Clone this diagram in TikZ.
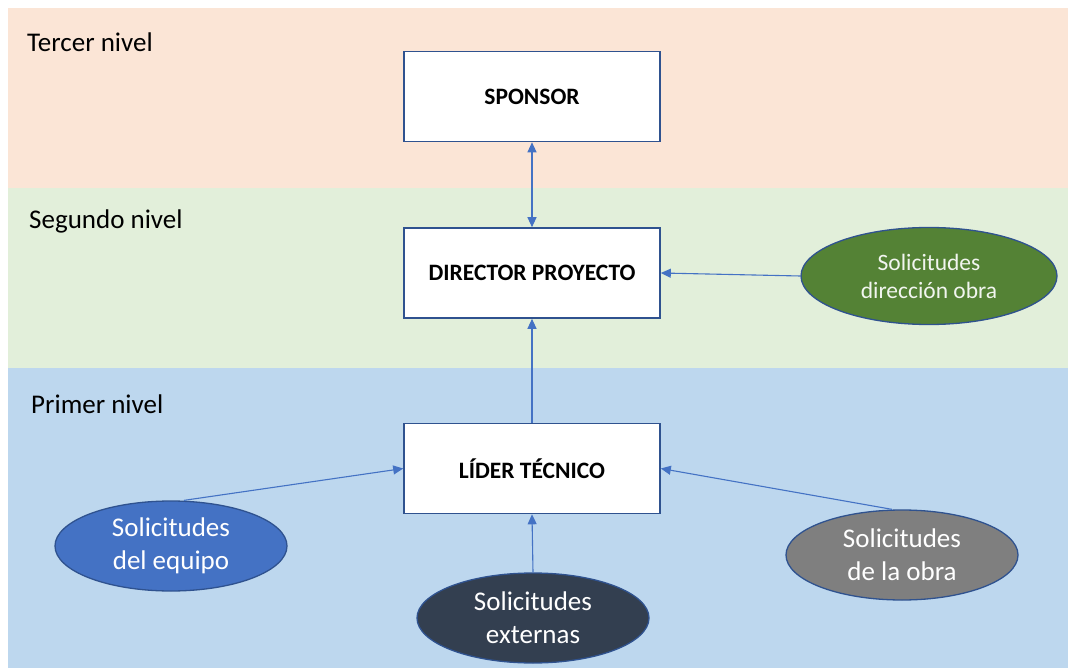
\documentclass[tikz,border=0pt]{standalone}
\usepackage{fontspec}
\setmainfont{Carlito}
\usetikzlibrary{shapes.geometric,arrows.meta}

\definecolor{bandpeach}{HTML}{FBE5D6}
\definecolor{bandgreen}{HTML}{E2EFDA}
\definecolor{bandblue}{HTML}{BDD7EE}
\definecolor{boxline}{HTML}{2F528F}
\definecolor{arrowblue}{HTML}{4472C4}
\definecolor{ellblue}{HTML}{4472C4}
\definecolor{elldark}{HTML}{333F50}
\definecolor{ellgrey}{HTML}{7F7F7F}
\definecolor{ellgreen}{HTML}{548235}

\tikzset{
  rolebox/.style={draw=boxline, line width=1.6pt, fill=white,
    minimum width=256pt, minimum height=90pt, inner sep=0pt,
    font=\fontsize{23.5}{28}\selectfont\bfseries},
  levellabel/.style={anchor=west, inner sep=0pt,
    font=\fontsize{27}{32}\selectfont},
  request/.style={ellipse, draw=boxline, line width=1.3pt, text=white,
    minimum width=232pt, minimum height=90pt, inner sep=0pt, align=center,
    font=\fontsize{27}{33}\selectfont},
  link/.style={draw=arrowblue, line width=1.1pt,
    -{Triangle[length=10pt,width=9pt]}},
}

\begin{document}
\begin{tikzpicture}[x=1pt, y=-1pt]
  \useasboundingbox (0,0) rectangle (1068,668);

  % level bands
  \fill[bandpeach] (8,8)   rectangle (1068,188);
  \fill[bandgreen] (8,188) rectangle (1068,368);
  \fill[bandblue]  (8,368) rectangle (1068,668);

  \node[levellabel] (l3) at (27,42)  {Tercer nivel};
  \node[levellabel] (l2) at (29,221) {Segundo nivel};
  \node[levellabel] (l1) at (31,404) {Primer nivel};

  % roles
  \node[rolebox] (sponsor)  at (532,96.5)  {SPONSOR};
  \node[rolebox] (director) at (532,273)   {DIRECTOR PROYECTO};
  \node[rolebox] (lider)    at (532,468.5) {LÍDER TÉCNICO};

  % sources of requests
  \node[request, fill=ellgreen, minimum width=256pt, minimum height=97pt,
        font=\fontsize{23.5}{28}\selectfont, text=white!92!ellgreen]
        (dobra) at (929,276) {Solicitudes\\dirección obra};
  \node[request, fill=ellblue] (equipo)   at (171,546) {Solicitudes\\del equipo};
  \node[request, fill=elldark] (externas) at (533,618) {Solicitudes\\externas};
  \node[request, fill=ellgrey] (obra)     at (902,555) {Solicitudes\\de la obra};

  % connectors
  \draw[link, {Triangle[length=10pt,width=9pt]}-{Triangle[length=10pt,width=9pt]}]
        (sponsor.south) -- (director.north);
  \draw[link] (dobra.west) -- (director.east);
  \draw[link] (lider.north) -- (director.south);
  \draw[link] ([xshift=13pt]equipo.north) -- (lider.west);
  \draw[link] (externas.north) -- (lider.south);
  \draw[link] ([xshift=-10pt]obra.north) -- (lider.east);
\end{tikzpicture}
\end{document}
